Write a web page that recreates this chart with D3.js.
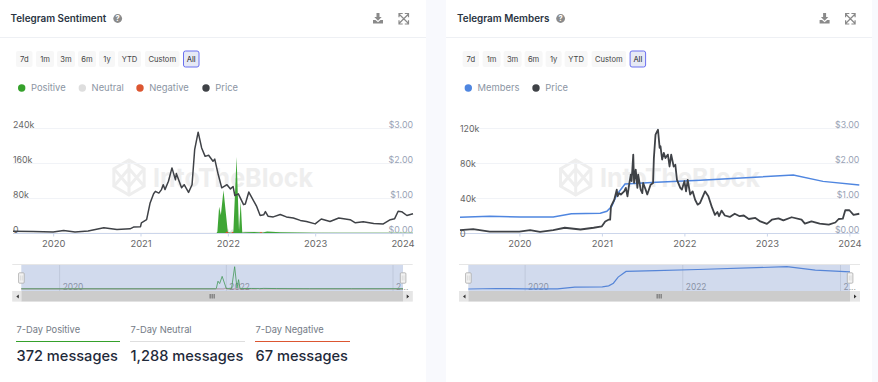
<!DOCTYPE html>
<html><head><meta charset="utf-8">
<script src="https://cdn.jsdelivr.net/npm/d3@7"></script>
<style>
html,body{margin:0;padding:0;background:#f8f9fd;overflow:hidden}
svg{display:block}
text{font-family:Inter,"Noto Sans",sans-serif}
</style></head><body>
<svg id="c" width="878" height="382"></svg>
<script>
// ---------- data (dates are decimal years) ----------
const rangeButtons = ["7d","1m","3m","6m","1y","YTD","Custom","All"];

const smoothPriceDates = [2019.54,2019.77,2020.00,2020.12,2020.25,2020.40,2020.58,2020.73,2020.88,2020.92,2021.00,2021.01,2021.07,2021.11,2021.15,2021.17,2021.21,2021.24,2021.26,2021.28,2021.32,2021.36,2021.40,2021.41,2021.47,2021.50,2021.55,2021.59,2021.62,2021.66,2021.70,2021.74,2021.78,2021.83,2021.85,2021.89,2021.93,2021.99,2022.03,2022.06,2022.08,2022.12,2022.18,2022.20,2022.24,2022.27,2022.33,2022.37,2022.41,2022.43,2022.46,2022.52,2022.60,2022.67,2022.75,2022.83,2022.90,2023.00,2023.07,2023.17,2023.27,2023.40,2023.46,2023.55,2023.67,2023.78,2023.86,2023.91,2023.95,2023.99,2024.05,2024.12];
const smoothPrice = [.05,.04,.03,.07,.03,.06,.15,.10,.12,.17,.18,.29,.38,.86,1.12,1.19,1.14,1.24,1.38,1.24,1.48,1.86,1.52,1.70,1.29,1.38,1.16,1.38,2.38,2.88,2.43,2.19,2.22,2.05,2.11,1.67,1.29,1.38,1.26,1.33,1.07,1.12,.81,.83,1.17,1.03,.76,.50,.52,.61,.48,.46,.53,.46,.43,.36,.33,.26,.40,.33,.43,.38,.29,.32,.27,.26,.38,.41,.62,.61,.50,.55];

const positiveDates = [2019.54,2021.87,2021.88,2021.90,2021.92,2021.95,2022.00,2022.05,2022.063,2022.10,2022.128,2022.147,2022.165,2022.20,2022.30,2022.40,2022.45,2022.60,2022.80,2023.00,2023.50,2024.12];
const positive = [0,0,3000,60000,41000,98000,1500,500,3000,174000,5000,72000,1000,1800,2400,1200,3200,1800,900,500,300,500];
const neutralDates = [2019.54,2021.9,2021.98,2022.0,2022.02,2022.05,2022.08,2022.11,2022.2,2022.4,2022.8,2023.3,2024.0,2024.12];
const neutral = [100,300,3000,11000,2000,9000,2000,1500,4000,3000,2500,1500,2000,1500];
const negativeDates = [2019.54,2021.97,2021.99,2022.01,2022.04,2022.05,2022.07,2022.36,2022.38,2022.40,2024.12];
const negative = [0,0,3500,0,0,2800,0,0,2500,0,0];

const noisyPriceDates = [2019.28,2019.44,2019.64,2020.00,2020.13,2020.25,2020.41,2020.55,2020.74,2020.90,2021.00,2021.04,2021.08,2021.10,2021.11,2021.15,2021.18,2021.19,2021.21,2021.23,2021.27,2021.29,2021.31,2021.33,2021.35,2021.36,2021.38,2021.39,2021.41,2021.43,2021.44,2021.47,2021.49,2021.50,2021.53,2021.55,2021.59,2021.62,2021.63,2021.65,2021.68,2021.70,2021.71,2021.73,2021.75,2021.77,2021.80,2021.82,2021.84,2021.87,2021.89,2021.91,2021.95,2021.97,2022.00,2022.02,2022.04,2022.07,2022.10,2022.13,2022.16,2022.19,2022.25,2022.29,2022.33,2022.37,2022.40,2022.42,2022.45,2022.49,2022.55,2022.61,2022.67,2022.72,2022.78,2022.86,2022.92,2023.00,2023.06,2023.14,2023.20,2023.30,2023.42,2023.46,2023.54,2023.64,2023.75,2023.83,2023.87,2023.92,2023.95,2024.00,2024.05,2024.12];
const noisyPrice = [.08,.11,.04,.04,.08,.03,.08,.15,.10,.15,.19,.33,.38,.38,.76,.95,1.24,1.05,1.14,1.10,1.19,1.29,1.05,1.38,1.67,1.48,2.24,1.43,1.81,1.29,1.67,1.24,1.14,1.43,1.24,1.10,1.38,1.43,2.14,2.81,2.95,2.43,2.48,2.10,2.29,2.14,2.24,1.90,2.24,1.90,1.95,1.52,1.29,1.24,1.48,1.19,1.52,1.10,1.19,.95,.81,.86,1.19,1.05,.76,.52,.60,.48,.64,.50,.46,.55,.48,.50,.40,.43,.33,.26,.38,.42,.36,.45,.38,.27,.33,.27,.24,.30,.40,.41,.65,.65,.52,.55];

const memberDates = [2019.28,2019.64,2020.01,2020.41,2020.63,2020.98,2021.06,2021.12,2021.18,2021.28,2021.66,2022.19,2023.32,2023.68,2024.12];
const members = [17900,19000,18300,18300,22000,22500,24800,30500,43800,56000,57900,60200,66300,59000,54900];

const sentimentLeftTicks = [0,80000,160000,240000];
const membersLeftTicks = [0,40000,80000,120000];
const priceTicks = [0,1,2,3];
const yearTicks = [2020,2021,2022,2023,2024];

const sentimentLegend = [["Positive","#35a12b"],["Neutral","#dedede"],["Negative","#dc5631"],["Price","#3f4247"]];
const membersLegend = [["Members","#4f86e0"],["Price","#3f4247"]];
const stats = [["7-Day Positive","372 messages","#35a12b"],["7-Day Neutral","1,288 messages","#dedede"],["7-Day Negative","67 messages","#dc5631"]];

// ---------- drawing ----------
const svg = d3.select("#c");
const zip = (a,b)=>a.map((d,i)=>[d,b[i]]);
const fmtK = d=> d===0?"0":(d/1000)+"k";
const fmtUsd = d=>"$"+d.toFixed(2);

function panelFrame(dx,title,titleHelpX,legend,legendX){
  const g = svg.append("g").attr("transform",`translate(${dx},0)`);
  g.append("rect").attr("x",dx?-0.6:-10).attr("y",-10).attr("width",dx?426:436).attr("height",420).attr("rx",6).attr("fill","#fff");
  g.append("line").attr("x1",dx?-0.6:0).attr("x2",dx?425.4:426).attr("y1",37.5).attr("y2",37.5).attr("stroke","#eef0f4");
  g.append("text").attr("x",10.5).attr("y",22).attr("font-size",9.9).attr("font-weight",600).attr("fill","#2a3442").text(title);
  g.append("circle").attr("cx",titleHelpX).attr("cy",18.5).attr("r",4.4).attr("fill","#8b8b8b");
  g.append("text").attr("x",titleHelpX).attr("y",21.3).attr("text-anchor","middle").attr("font-size",7.5).attr("font-weight",700).attr("fill","#fff").text("?");
  const ic = g.append("g").attr("fill","#8a8a8a");
  ic.append("path").attr("d","M376.5 13h3v4h2.2l-3.7 3.7-3.7-3.7h2.2z");
  ic.append("path").attr("d","M373 20h2.5l2.5 2.2 2.5-2.2h2.5v3.5h-10z");
  const ex = g.append("g").attr("stroke","#8a8a8a").attr("fill","none").attr("stroke-width",1.2);
  ex.append("path").attr("d","M399 14l9.5 9.5M408.5 14l-9.5 9.5M399 17.2v-3.7h3.7M404.8 13.5h3.7v3.7M408.5 20.3v3.7h-3.7M402.7 24h-3.7v-3.7");
  const bx=[16,36,57,78,99,118,145,183], bw=[16.5,18,18,18,16,23,34.5,16.5];
  rangeButtons.forEach((t,i)=>{
    const sel=t==="All";
    g.append("rect").attr("x",bx[i]+(sel?.5:0)).attr("y",51).attr("width",bw[i]-(sel?1:0)).attr("height",16).attr("rx",2)
      .attr("fill",sel?"#e6e9f5":"#f7f7f7").attr("stroke",sel?"#6a70f0":"none").attr("stroke-width",1);
    g.append("text").attr("x",bx[i]+bw[i]/2).attr("y",62).attr("text-anchor","middle").attr("font-size",7.6)
      .attr("fill",sel?"#222":"#444").text(t);
  });
  legend.forEach((l,i)=>{
    g.append("circle").attr("cx",legendX[i]).attr("cy",88).attr("r",3.7).attr("fill",l[1]);
    g.append("text").attr("x",legendX[i]+9.3).attr("y",91.3).attr("font-size",9.4).attr("fill","#8b95a3").text(l[0]);
  });
  return g;
}

function watermark(g,cx,tx){
  const c="#eeeeee";
  const w=g.append("g").attr("fill","none").attr("stroke",c).attr("stroke-width",3);
  const cy=177.5,r=17.5;
  const hex=d3.range(6).map(i=>{const a=Math.PI/3*i-Math.PI/2;return [cx+r*Math.cos(a),cy+r*Math.sin(a)];});
  w.append("path").attr("d",d3.line()(hex)+"Z");
  w.append("path").attr("d",`M${hex[5]}L${cx},${cy+9}L${hex[1]}M${hex[4]}L${cx},${cy-9}L${hex[2]}M${cx},${cy-9}V${cy+r}M${cx},${cy+9}V${cy-r}`);
  g.append("text").attr("x",tx).attr("y",187.3).attr("font-size",26).attr("font-weight",700).attr("fill",c)
    .attr("textLength",160).attr("lengthAdjust","spacingAndGlyphs").text("IntoTheBlock");
}

function axes(g,x,yL,yR,leftTicks,x0,x1,lx,leftDy){
  g.append("g").selectAll("line").data(leftTicks.slice(1)).join("line")
    .attr("x1",x0).attr("x2",x1).attr("y1",d=>Math.round(yL(d))+.5).attr("y2",d=>Math.round(yL(d))+.5).attr("stroke","#f1f3f7");
  const xa=g.append("g").attr("transform","translate(0,233.5)")
    .call(d3.axisBottom(x).tickValues(yearTicks).tickFormat(d3.format("d")).tickSize(3).tickPadding(4));
  xa.select(".domain").attr("stroke","#ccd6eb").attr("d",`M${x0},0H${x1}`);
  xa.selectAll("line").attr("stroke","#ccd6eb");
  xa.selectAll("text").attr("fill","#666").attr("font-size",9.4).attr("font-family",'Inter,"Noto Sans",sans-serif');
  const la=g.append("g").attr("transform",`translate(${lx},0)`)
    .call(d3.axisRight(yL).tickValues(leftTicks).tickFormat(fmtK).tickSize(0).tickPadding(0));
  la.select(".domain").remove();
  la.selectAll("text").attr("fill","#666").attr("font-size",8.8).attr("dy",leftDy).attr("font-family",'Inter,"Noto Sans",sans-serif');
  const ra=g.append("g").attr("transform",`translate(${x1},0)`)
    .call(d3.axisLeft(yR).tickValues(priceTicks).tickFormat(fmtUsd).tickSize(0).tickPadding(0));
  ra.select(".domain").remove();
  ra.selectAll("text").attr("fill","#98a2b5").attr("font-size",8.8).attr("dy",-0.2).attr("font-family",'Inter,"Noto Sans",sans-serif');
}

function navigator(g,cfg){
  const {x0,x1,m0,m1,labels,domain}=cfg;
  const top=264.5,bot=291;
  g.append("rect").attr("x",x0).attr("y",top).attr("width",x1-x0).attr("height",bot-top).attr("fill","#fff");
  const nx=d3.scaleLinear().domain(domain).range([m0,m1]);
  g.selectAll(null).data(labels).join("line").attr("x1",d=>nx(d)).attr("x2",d=>nx(d)).attr("y1",top).attr("y2",bot).attr("stroke","#e6e6e6");
  g.selectAll(null).data(labels).join("text").attr("x",d=>nx(d)+3).attr("y",289.5).attr("font-size",8.4).attr("fill","#999")
    .text(d=> d>=2024 ? "2..." : d);
  cfg.draw(nx);
  g.append("rect").attr("x",m0).attr("y",top).attr("width",m1-m0).attr("height",bot-top).attr("fill","#6685c2").attr("fill-opacity",.3);
  g.append("line").attr("x1",x0).attr("x2",x1).attr("y1",top).attr("y2",top).attr("stroke","#e6e6e6");
  [m0,m1].forEach(m=>{
    g.append("rect").attr("x",m-2.7).attr("y",272.8).attr("width",5.6).attr("height",10.4).attr("rx",1).attr("fill","#f2f2f2").attr("stroke","#aaa").attr("stroke-width",.8);
    g.append("path").attr("d",`M${m-.7} 275.5v5M${m+1} 275.5v5`).attr("stroke","#ccc").attr("stroke-width",.6);
  });
  g.append("rect").attr("x",x0).attr("y",291).attr("width",x1-x0).attr("height",10.5).attr("fill","#f2f2f2");
  g.append("rect").attr("x",m0).attr("y",291).attr("width",m1-m0).attr("height",10.5).attr("fill","#ccc");
  const cxm=(m0+m1)/2;
  g.append("path").attr("d",`M${cxm-2} 294v4.5M${cxm} 294v4.5M${cxm+2} 294v4.5`).attr("stroke","#333").attr("stroke-width",.7);
  g.append("rect").attr("x",x0).attr("y",291).attr("width",m0-x0).attr("height",10.5).attr("fill","#e6e6e6");
  g.append("rect").attr("x",m1).attr("y",291).attr("width",x1-m1).attr("height",10.5).attr("fill","#e6e6e6");
  g.append("path").attr("d",`M${x0+6.5} 294.5v4l-2.5-2zM${x1-6} 294.5v4l2.5-2z`).attr("fill","#333");
}

// ---- left panel ----
const left=panelFrame(0,"Telegram Sentiment",117.7,sentimentLegend,[21.7,82.3,140,206]);
watermark(left,129,153);
{
  const x=d3.scaleLinear().domain([2019.54,2024.12]).range([13,413]);
  const yL=d3.scaleLinear().domain([0,240000]).range([233,128]);
  const yR=d3.scaleLinear().domain([0,3]).range([233,128]);
  axes(left,x,yL,yR,sentimentLeftTicks,13,413,13,-1);
  const area=d3.area().x(d=>x(d[0])).y0(233).y1(d=>yL(d[1]));
  left.append("path").attr("d",area(zip(neutralDates,neutral))).attr("fill","#dedede").attr("fill-opacity",.8);
  left.append("path").attr("d",area(zip(positiveDates,positive))).attr("fill","#35a12b").attr("fill-opacity",.95);
  left.append("path").attr("d",area(zip(negativeDates,negative))).attr("fill","#e8482a");
  left.append("path").attr("d",d3.line().x(d=>x(d[0])).y(d=>yR(d[1]))(zip(smoothPriceDates,smoothPrice)))
    .attr("fill","none").attr("stroke","#3f4247").attr("stroke-width",1.5).attr("stroke-linejoin","round");
  navigator(left,{x0:12.3,x1:412.7,m0:21.3,m1:403,domain:[2019.54,2024.12],labels:[2020,2022,2024],draw(nx){
    const ny=d3.scaleLinear().domain([0,174000]).range([288.8,266.7]);
    const ln=d3.line().x(d=>nx(d[0])).y(d=>ny(d[1]));
    left.append("path").attr("d",ln(zip(negativeDates,negative))).attr("fill","none").attr("stroke","#dc5631").attr("stroke-width",.8);
    left.append("path").attr("d",ln(zip(neutralDates,neutral))).attr("fill","none").attr("stroke","#cfcfcf").attr("stroke-width",.8);
    left.append("path").attr("d",ln(zip(positiveDates,positive))).attr("fill","none").attr("stroke","#35a12b").attr("stroke-width",.8);
  }});
  const sx=[16,130,255], sw=[104,115,95];
  stats.forEach((s,i)=>{
    left.append("text").attr("x",sx[i]+.5).attr("y",333.3).attr("font-size",9.3).attr("fill","#737b86").text(s[0]);
    left.append("line").attr("x1",sx[i]).attr("x2",sx[i]+sw[i]).attr("y1",341.5).attr("y2",341.5).attr("stroke",s[2]).attr("stroke-width",1);
    left.append("text").attr("x",sx[i]+.5).attr("y",361).attr("font-size",14.6).attr("font-weight",500).attr("fill","#1f2a3a").text(s[1]);
  });
}

// ---- right panel ----
const right=panelFrame(446.6,"Telegram Members",114,membersLegend,[21.7,89.4]);
watermark(right,129.1,153.4);
{
  const off=446.6;
  const x=d3.scaleLinear().domain([2019.28,2024.12]).range([460-off,859.3-off]);
  const yL=d3.scaleLinear().domain([0,120000]).range([233,128]);
  const yR=d3.scaleLinear().domain([0,3]).range([233,128]);
  axes(right,x,yL,yR,membersLeftTicks,460-off,859.3-off,460-off,3);
  right.append("path").attr("d",d3.line().x(d=>x(d[0])).y(d=>yL(d[1]))(zip(memberDates,members)))
    .attr("fill","none").attr("stroke","#4f86e0").attr("stroke-width",1.5);
  right.append("path").attr("d",d3.line().x(d=>x(d[0])).y(d=>yR(d[1]))(zip(noisyPriceDates,noisyPrice)))
    .attr("fill","none").attr("stroke","#3f4247").attr("stroke-width",1.8).attr("stroke-linejoin","round");
  navigator(right,{x0:459-off,x1:860-off,m0:468.3-off,m1:850-off,domain:[2019.28,2024.12],labels:[2020,2022,2024],draw(nx){
    const ny=d3.scaleLinear().domain([17900,66300]).range([289,266.7]);
    right.append("path").attr("d",d3.line().x(d=>nx(d[0])).y(d=>ny(d[1]))(zip(memberDates,members)))
      .attr("fill","none").attr("stroke","#4f86e0").attr("stroke-width",1.2);
  }});
}
</script>
</body></html>
